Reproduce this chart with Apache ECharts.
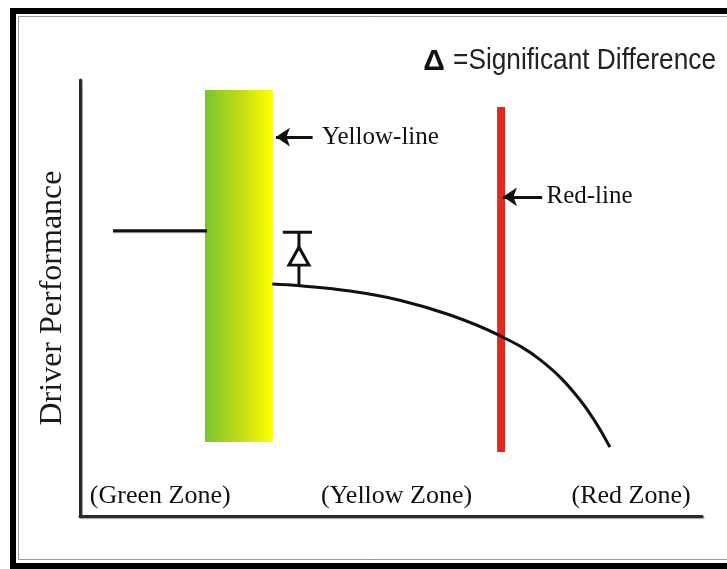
<!DOCTYPE html>
<html>
<head>
<meta charset="utf-8">
<script src="https://cdn.jsdelivr.net/npm/echarts@6/dist/echarts.min.js"></script>
<style>
  html, body { margin: 0; padding: 0; background: #fff; }
  #chart { width: 727px; height: 569px; }
</style>
</head>
<body>
<div id="chart"></div>
<script>
// ---- data (abstract 0..100 scales) ----
const zoneNames = ['(Green Zone)', '(Yellow Zone)', '(Red Zone)'];
const zoneLabelX = [12.9, 50.9, 88.6];
const zoneLabelY = [4.6, 4.6, 4.6];

const yellowBandX = [20.1, 31.0];
const yellowBandY = [17.0, 97.7];

const redLineX = [67.7, 67.7];
const redLineY = [14.7, 93.8];

const baselineX = [5.3, 20.4];
const baselineY = [65.4, 65.4];

const curveX = [30.9, 35.4, 43.4, 51.4, 59.5, 67.0, 74.0, 80.4, 85.2];
const curveY = [53.2, 52.8, 51.6, 49.5, 46.1, 41.7, 35.8, 26.6, 15.8];

const diffX = [35.2, 35.2];
const diffY = [52.6, 65.1];
const diffCapX = [32.6, 37.3];
const diffMarkerY = [59.6];

const arrowNames = ['Yellow-line', 'Red-line'];
const arrowTipX = [31.5, 68.0];
const arrowTailX = [37.4, 74.3];
const arrowY = [86.9, 73.2];
const arrowLabelX = [38.9, 75.0];

const yAxisTitle = 'Driver Performance';
const legendSymbol = 'Δ';
const legendText = '=Significant Difference';

const chart = echarts.init(document.getElementById('chart'), null, { renderer: 'canvas' });

const serif = 'Liberation Serif, Times New Roman, serif';

const option = {
  backgroundColor: '#ffffff',
  animation: false,
  grid: { left: 80, right: 25, top: 80, bottom: 53 },
  xAxis: {
    type: 'value', min: 0, max: 100,
    axisLine: { show: true, onZero: false, lineStyle: { color: '#2a2a2a', width: 3, shadowColor: 'rgba(0,0,0,0.35)', shadowOffsetX: 1, shadowOffsetY: 1, shadowBlur: 1 } },
    axisTick: { show: false }, axisLabel: { show: false }, splitLine: { show: false }
  },
  yAxis: {
    type: 'value', min: 0, max: 100,
    name: yAxisTitle,
    nameLocation: 'middle',
    nameRotate: 90,
    nameGap: 11,
    nameTextStyle: { fontFamily: serif, fontSize: 32, color: '#1a1a1a' },
    axisLine: { show: true, onZero: false, lineStyle: { color: '#2a2a2a', width: 3, shadowColor: 'rgba(0,0,0,0.35)', shadowOffsetX: 1, shadowOffsetY: 1, shadowBlur: 1 } },
    axisTick: { show: false }, axisLabel: { show: false }, splitLine: { show: false }
  },
  graphic: [
    { type: 'rect', silent: true, shape: { x: 13, y: 11, width: 800, height: 555 }, style: { fill: 'none', stroke: '#000', lineWidth: 6 } },
    { type: 'rect', silent: true, shape: { x: 18.5, y: 16.5, width: 800, height: 543 }, style: { fill: 'none', stroke: '#9a9a9a', lineWidth: 1 } },
    { type: 'text', silent: true, x: 716, y: 61, scaleX: 0.875, scaleY: 1,
      style: { text: legendText, font: '30px "Liberation Sans", Arial, sans-serif', fill: '#222', textAlign: 'right', textVerticalAlign: 'middle' } },
    { type: 'text', silent: true, x: 434, y: 62,
      style: { text: legendSymbol, font: 'bold 30px "Liberation Sans", Arial, sans-serif', fill: '#111', textAlign: 'center', textVerticalAlign: 'middle' } }
  ],
  series: [
    {
      type: 'custom',
      name: 'Yellow-line band',
      renderItem: function (params, api) {
        const p0 = api.coord([api.value(0), api.value(3)]);
        const p1 = api.coord([api.value(1), api.value(2)]);
        return {
          type: 'rect',
          shape: { x: p0[0], y: p0[1], width: p1[0] - p0[0], height: p1[1] - p0[1] },
          style: {
            fill: new echarts.graphic.LinearGradient(0, 0, 1, 0, [
              { offset: 0, color: '#7ac42c' },
              { offset: 0.5, color: '#bddc16' },
              { offset: 1, color: '#ffff00' }
            ])
          }
        };
      },
      data: [[yellowBandX[0], yellowBandX[1], yellowBandY[0], yellowBandY[1]]],
      z: 1
    },
    {
      type: 'line', name: 'Red-line', silent: true, symbol: 'none',
      data: redLineX.map((x, i) => [x, redLineY[i]]),
      lineStyle: { color: '#e02a1c', width: 8, cap: 'butt' }, z: 2
    },
    {
      type: 'line', name: 'baseline', silent: true, symbol: 'none',
      data: baselineX.map((x, i) => [x, baselineY[i]]),
      lineStyle: { color: '#111', width: 3, shadowColor: 'rgba(0,0,0,0.3)', shadowOffsetY: 1 }, z: 3
    },
    {
      type: 'line', name: 'performance', silent: true, symbol: 'none', smooth: 0.4,
      data: curveX.map((x, i) => [x, curveY[i]]),
      lineStyle: { color: '#111', width: 3 }, z: 3
    },
    {
      type: 'line', name: 'diff', silent: true, symbol: 'none',
      data: diffX.map((x, i) => [x, diffY[i]]),
      lineStyle: { color: '#111', width: 3 }, z: 3
    },
    {
      type: 'line', name: 'diffcap', silent: true, symbol: 'none',
      data: diffCapX.map(x => [x, diffY[1]]),
      lineStyle: { color: '#111', width: 3 }, z: 3
    },
    {
      type: 'scatter', name: 'diffmark', silent: true,
      symbol: 'triangle', symbolSize: [20, 18],
      data: diffMarkerY.map(y => [diffX[0], y]),
      itemStyle: { color: '#fff', borderColor: '#111', borderWidth: 3, opacity: 1 }, z: 4
    },
    {
      type: 'lines', name: 'arrows', coordinateSystem: 'cartesian2d', silent: true,
      symbol: ['none', 'arrow'], symbolSize: [0, 14],
      data: arrowTipX.map((x, i) => ({ coords: [[arrowTailX[i], arrowY[i]], [x, arrowY[i]]] })),
      lineStyle: { color: '#111', width: 3, opacity: 1 }, z: 5
    },
    {
      type: 'scatter', name: 'arrowLabels', silent: true, symbolSize: 0,
      itemStyle: { opacity: 1 },
      data: arrowNames.map((n, i) => ({ name: n, value: [arrowLabelX[i], arrowY[i]] })),
      label: { show: true, position: 'right', distance: 0, formatter: '{b}', fontFamily: serif, fontSize: 25, color: '#111', textBorderWidth: 0 }
    },
    {
      type: 'scatter', name: 'zones', silent: true, symbolSize: 0,
      itemStyle: { opacity: 1 },
      data: zoneNames.map((n, i) => ({ name: n, value: [zoneLabelX[i], zoneLabelY[i]] })),
      label: { show: true, position: 'inside', formatter: '{b}', fontFamily: serif, fontSize: 26, color: '#111', textBorderWidth: 0 }
    }
  ]
};
chart.setOption(option);
</script>
</body>
</html>
